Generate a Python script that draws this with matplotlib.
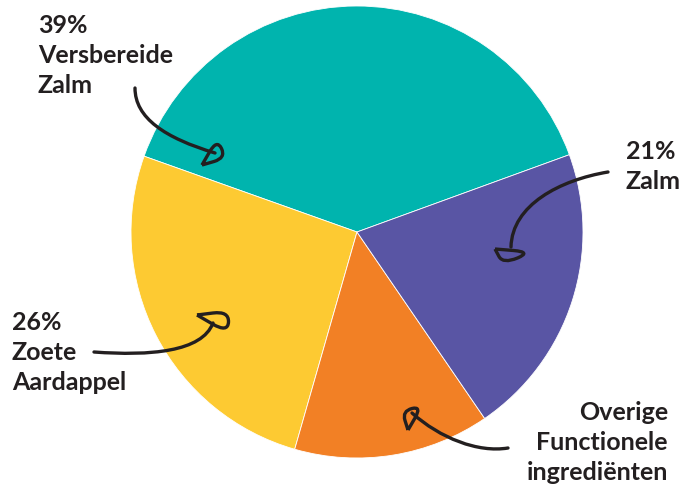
import matplotlib
matplotlib.use("Agg")
import matplotlib.pyplot as plt
from matplotlib.path import Path
from matplotlib.patches import PathPatch

# slices, counter-clockwise from the teal/purple border
labels = ["39%\nVersbereide\nZalm", "26%\nZoete\nAardappel", "Overige\nFunctionele\ningrediënten", "21%\nZalm"]
shares = [39, 26, 14, 21]
colors = ["#00B4AE", "#FDCA32", "#F28025", "#5955A4"]

W, H = 683, 486
INK = "#231F20"


def px(x, y):
    # picture pixel -> data coords (y up)
    return (x, H - y)


fig = plt.figure(figsize=(W / 100, H / 100), dpi=100)
ax = fig.add_axes([0, 0, 1, 1])

ax.pie(
    shares,
    colors=colors,
    startangle=20,
    counterclock=True,
    center=px(357, 232),
    radius=226,
    wedgeprops=dict(linewidth=0.6, edgecolor="white"),
)
ax.set_xlim(0, W)
ax.set_ylim(0, H)
ax.set_aspect("equal")
ax.axis("off")

# label text
font = dict(family=["Lato", "DejaVu Sans"], fontsize=18, fontweight="bold", color=INK, linespacing=1.36)
ax.text(*px(38, 14), labels[0], ha="left", va="top", **font)
ax.text(*px(12, 311), labels[1], ha="left", va="top", **font)
ax.text(*px(668, 401), labels[2], ha="right", va="top", multialignment="right", **font)
ax.text(*px(626, 140), labels[3], ha="left", va="top", **font)

# hand-drawn style arrows: (curve p0, c1, c2, p3), head corners
arrows = [
    ([(135, 88), (135, 118), (165, 138), (215, 153)], [(202, 165), (217, 139), (226, 158)]),
    ([(608, 172), (560, 180), (512, 205), (511, 247)], [(495, 249), (532, 252), (503, 264)]),
    ([(94, 352), (150, 356), (202, 352), (213, 323)], [(197, 315), (229, 311), (228, 333)]),
    ([(508, 448), (478, 453), (440, 438), (412, 413)], [(408, 430), (402, 411), (422, 406)]),
]

for curve, head in arrows:
    verts = [px(*p) for p in curve]
    path = Path(verts, [Path.MOVETO, Path.CURVE4, Path.CURVE4, Path.CURVE4])
    ax.add_patch(PathPatch(path, fill=False, edgecolor=INK, lw=2.4, capstyle="round"))

    a, b, c = [px(*p) for p in head]
    mab = ((a[0] + b[0]) / 2, (a[1] + b[1]) / 2)
    mbc = ((b[0] + c[0]) / 2, (b[1] + c[1]) / 2)
    mca = ((c[0] + a[0]) / 2, (c[1] + a[1]) / 2)
    hverts = [a, mab, b, mbc, c, mca, a]
    hcodes = [Path.MOVETO, Path.LINETO, Path.CURVE3, Path.CURVE3, Path.CURVE3, Path.CURVE3, Path.LINETO]
    ax.add_patch(PathPatch(Path(hverts, hcodes), fill=False, edgecolor=INK, lw=2.4, joinstyle="round"))

plt.savefig("out.png", dpi=100)
plt.close()
